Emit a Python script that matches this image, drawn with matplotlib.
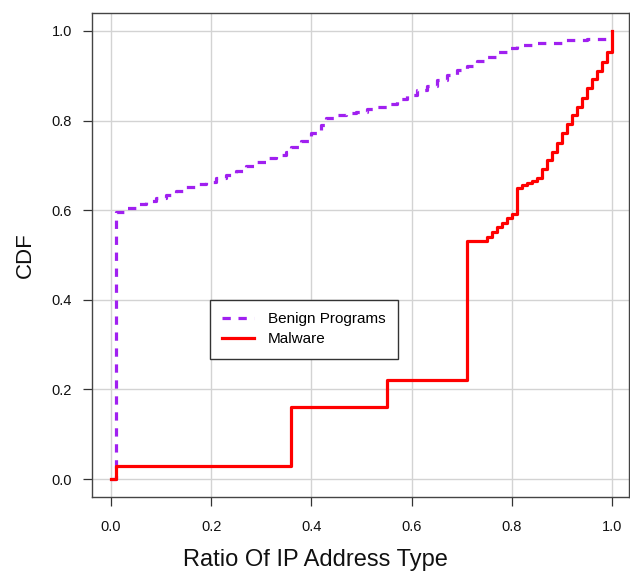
import matplotlib
matplotlib.use("Agg")
import matplotlib.pyplot as plt

plt.rcParams['font.family'] = ['Liberation Sans', 'DejaVu Sans']

# Benign programs CDF (step points)
ben_x = [0.0, 0.01, 0.03, 0.05, 0.07, 0.09, 0.11, 0.13, 0.15, 0.17, 0.19, 0.21,
         0.23, 0.25, 0.27, 0.29, 0.31, 0.33, 0.35, 0.36, 0.38, 0.40, 0.42, 0.43,
         0.45, 0.47, 0.49, 0.51, 0.53, 0.55, 0.57, 0.59, 0.61, 0.63, 0.65, 0.67,
         0.69, 0.71, 0.73, 0.75, 0.77, 0.79, 0.81, 0.85, 0.90, 0.95, 0.99]
ben_y = [0.0, 0.597, 0.605, 0.614, 0.621, 0.628, 0.635, 0.643, 0.651, 0.658, 0.664, 0.672,
         0.679, 0.688, 0.698, 0.707, 0.716, 0.724, 0.730, 0.742, 0.755, 0.772, 0.790, 0.805,
         0.813, 0.816, 0.819, 0.825, 0.830, 0.838, 0.848, 0.858, 0.868, 0.878, 0.891, 0.902,
         0.912, 0.922, 0.932, 0.942, 0.954, 0.963, 0.968, 0.974, 0.979, 0.983, 0.987]

# Malware CDF (step points)
mal_x = [0.0, 0.01, 0.36, 0.55, 0.71, 0.75, 0.76, 0.77, 0.78, 0.79, 0.80, 0.81,
         0.82, 0.83, 0.84, 0.85, 0.86, 0.87, 0.88, 0.89, 0.90, 0.91, 0.92, 0.93,
         0.94, 0.95, 0.96, 0.97, 0.98, 0.99, 1.0]
mal_y = [0.0, 0.03, 0.16, 0.22, 0.531, 0.540, 0.551, 0.562, 0.571, 0.582, 0.592, 0.650,
         0.656, 0.661, 0.665, 0.672, 0.692, 0.712, 0.730, 0.750, 0.772, 0.792, 0.812, 0.830,
         0.850, 0.873, 0.893, 0.911, 0.931, 0.953, 1.0]

ticks = [0.0, 0.2, 0.4, 0.6, 0.8, 1.0]
tick_labels = ["0.0", "0.2", "0.4", "0.6", "0.8", "1.0"]

fig = plt.figure(figsize=(6.3, 5.71), dpi=100)
ax = fig.add_axes([92/630, 74/571, 537/630, 484/571])

ax.grid(True, color='#D3D3D3', linewidth=1.0, zorder=0)
ax.set_axisbelow(True)

ax.plot(ben_x, ben_y, drawstyle='steps-post', color='#A020F0', linewidth=2.3,
        linestyle=(0, (2.6, 2.4)), label='Benign Programs', zorder=3)
ax.plot(mal_x, mal_y, drawstyle='steps-post', color='#FF0000', linewidth=2.3,
        label='Malware', zorder=3)

ax.set_xlim(-0.038, 1.034)
ax.set_ylim(-0.04, 1.04)
ax.set_xticks(ticks)
ax.set_xticklabels(tick_labels)
ax.set_yticks(ticks)
ax.set_yticklabels(tick_labels)
ax.tick_params(axis='both', direction='out', length=6.5, width=0.9, color='#333333',
               labelsize=10.5, labelcolor='#111111')
ax.tick_params(axis='x', pad=10)
ax.tick_params(axis='y', pad=8)

for s in ax.spines.values():
    s.set_color('#444444')
    s.set_linewidth(1.0)

ax.set_xlabel('Ratio Of IP Address Type', fontsize=17, color='#111111')
ax.xaxis.label.set_va('baseline')
ax.xaxis.set_label_coords(0.5, 5/571, transform=fig.transFigure)
ax.set_ylabel('CDF', fontsize=16, labelpad=11, color='#111111')

leg = ax.legend(loc='upper left', bbox_to_anchor=(0.219, 0.407), fontsize=11,
                frameon=True, fancybox=False, framealpha=1, edgecolor='#333333',
                handlelength=2.1, borderpad=0.8, labelspacing=0.4, handletextpad=0.9,
                borderaxespad=0)
leg.get_frame().set_linewidth(1.0)

fig.savefig('out.png', dpi=100)
